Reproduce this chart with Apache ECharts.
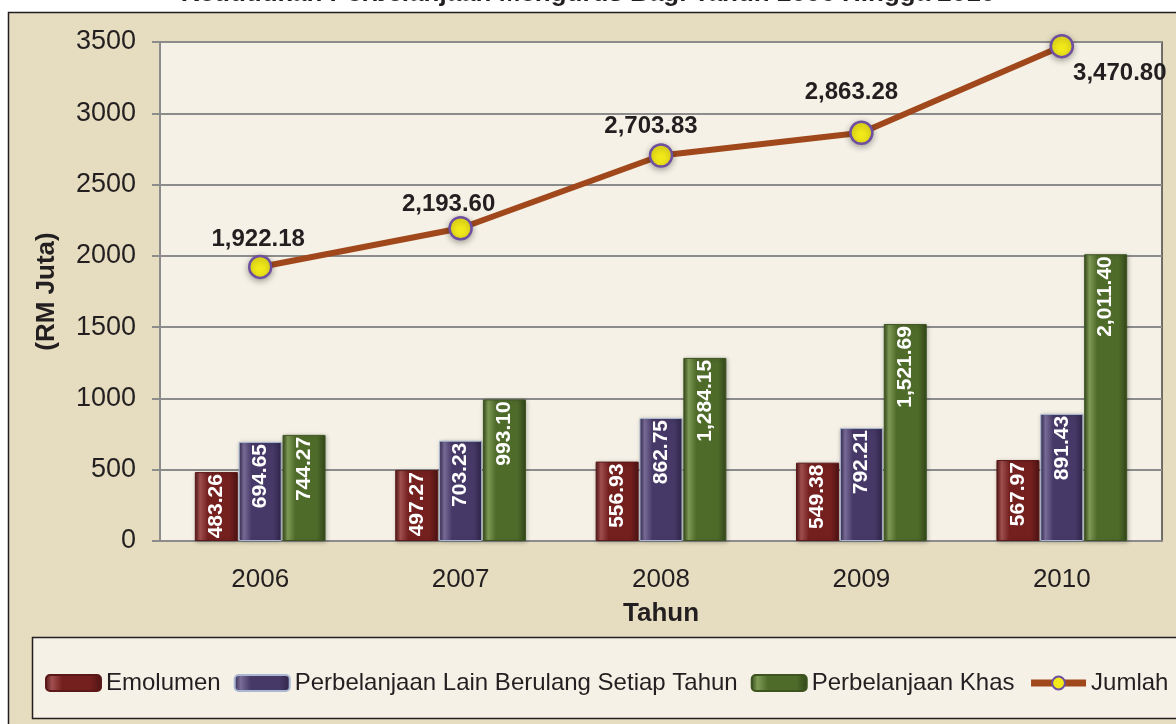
<!DOCTYPE html>
<html>
<head>
<meta charset="utf-8">
<script src="https://cdn.jsdelivr.net/npm/echarts@6/dist/echarts.min.js"></script>
<style>
html,body{margin:0;padding:0;background:#fff;}
#chart{width:1176px;height:724px;}
</style>
</head>
<body>
<div id="chart"></div>
<script>
var titleText = 'Kedudukan Perbelanjaan Mengurus Bagi Tahun 2006 Hingga 2010';
var years = ['2006', '2007', '2008', '2009', '2010'];
var emolumen = [483.26, 497.27, 556.93, 549.38, 567.97];
var lainBerulang = [694.65, 703.23, 862.75, 792.21, 891.43];
var khas = [744.27, 993.10, 1284.15, 1521.69, 2011.40];
var jumlah = [1922.18, 2193.60, 2703.83, 2863.28, 3470.80];
var seriesNames = ['Emolumen', 'Perbelanjaan Lain Berulang Setiap Tahun', 'Perbelanjaan Khas', 'Jumlah'];
var yTicks = [0, 500, 1000, 1500, 2000, 2500, 3000, 3500];

var FONT = 'Liberation Sans, Arial, sans-serif';
function fmt(v) {
  return v.toLocaleString('en-US', {minimumFractionDigits: 2, maximumFractionDigits: 2});
}
function grad(dark, mid, light) {
  return new echarts.graphic.LinearGradient(0, 0, 1, 0, [
    {offset: 0, color: dark},
    {offset: 0.12, color: light},
    {offset: 0.3, color: mid},
    {offset: 0.8, color: mid},
    {offset: 1, color: dark}
  ]);
}
var barLabel = {
  show: true,
  position: 'insideTop',
  rotate: 90,
  align: 'right',
  verticalAlign: 'middle',
  distance: 2,
  color: '#ffffff',
  fontFamily: FONT,
  fontWeight: 'bold',
  fontSize: 21,
  formatter: function (p) { return fmt(p.value); }
};
function barSeries(name, data, colors, border) {
  return {
    name: name,
    type: 'bar',
    data: data,
    barWidth: 43,
    barGap: '2%',
    itemStyle: {
      color: grad(colors[0], colors[1], colors[2]),
      borderColor: border,
      borderWidth: 1,
      shadowColor: 'rgba(0,0,0,0.25)',
      shadowBlur: 4,
      shadowOffsetX: 1,
      shadowOffsetY: 1
    },
    label: barLabel
  };
}

// label placement tweaks for the total line (styling only)
var lineLabelPlacement = [
  {position: 'top', offset: [-2, 0]},
  {position: 'top', offset: [-12, 3]},
  {position: 'top', offset: [-10, -2]},
  {position: 'top', offset: [-10, -13]},
  {position: 'bottom', offset: [58, 0]}
];
var lineData = jumlah.map(function (v, i) {
  return {value: v, label: lineLabelPlacement[i]};
});

var chart = echarts.init(document.getElementById('chart'));
chart.setOption({
  backgroundColor: '#ffffff',
  animation: false,
  textStyle: {fontFamily: FONT},
  graphic: {
    elements: [
      {type: 'rect', z: -10, shape: {x: 8.5, y: 12.5, width: 1200, height: 800},
       style: {fill: '#E6DDC0', stroke: '#231F20', lineWidth: 1.5}},
      {type: 'rect', z: -9, shape: {x: 32.5, y: 637.5, width: 1200, height: 81},
       style: {fill: '#F5F1E6', stroke: '#231F20', lineWidth: 1.5}}
    ]
  },
  title: {
    text: titleText,
    left: 'center',
    top: -24,
    textStyle: {fontSize: 26, fontWeight: 'bold', color: '#231F20', fontFamily: FONT}
  },
  grid: {
    left: 160, right: 14, top: 42, bottom: 183,
    show: true, backgroundColor: '#F5F1E6', borderColor: '#444', borderWidth: 1.5
  },
  legend: {
    data: [
      {name: seriesNames[0]},
      {name: seriesNames[1]},
      {name: seriesNames[2]},
      {name: seriesNames[3], lineStyle: {width: 7, color: '#A0481C'}}
    ],
    left: 40,
    top: 666,
    width: 1300,
    itemWidth: 55,
    itemHeight: 16,
    itemGap: 13,
    textStyle: {fontSize: 24, color: '#231F20', fontFamily: FONT}
  },
  xAxis: {
    type: 'category',
    data: years,
    axisLine: {lineStyle: {color: '#8C8C8C', width: 2}},
    axisTick: {show: false},
    axisLabel: {fontSize: 26, color: '#231F20', margin: 26},
    name: 'Tahun',
    nameLocation: 'middle',
    nameGap: 60,
    nameTextStyle: {fontSize: 26, fontWeight: 'bold', color: '#231F20'}
  },
  yAxis: {
    type: 'value',
    min: 0, max: 3500, interval: 500,
    axisLine: {show: true, lineStyle: {color: '#8C8C8C', width: 2}},
    axisTick: {show: true, length: 8, lineStyle: {color: '#8C8C8C', width: 2}},
    axisLabel: {fontSize: 27, color: '#231F20', margin: 24,
      formatter: function (v) { return yTicks.indexOf(v) >= 0 ? String(v) : ''; }},
    splitLine: {lineStyle: {color: '#8C8C8C', width: 2}},
    name: '(RM Juta)',
    nameLocation: 'middle',
    nameRotate: 90,
    nameGap: 100,
    nameTextStyle: {fontSize: 26, fontWeight: 'bold', color: '#231F20'}
  },
  series: [
    barSeries(seriesNames[0], emolumen, ['#4E1414', '#74201F', '#A25050'], '#5A1818'),
    barSeries(seriesNames[1], lainBerulang, ['#2E2448', '#473967', '#7A6C98'], '#A9B8D2'),
    barSeries(seriesNames[2], khas, ['#33461A', '#4F6B2A', '#7F9A55'], '#3E5420'),
    {
      name: seriesNames[3],
      type: 'line',
      data: lineData,
      z: 5,
      symbol: 'circle',
      symbolSize: 22,
      lineStyle: {color: '#A0481C', width: 6},
      itemStyle: {color: '#F2E91A', borderColor: '#6E4FA0', borderWidth: 2.5,
        shadowColor: 'rgba(0,0,0,0.3)', shadowBlur: 6, shadowOffsetY: 2},
      label: {
        show: true,
        position: 'top',
        distance: 3,
        color: '#231F20',
        fontWeight: 'bold',
        fontSize: 24,
        fontFamily: FONT,
        formatter: function (p) { return fmt(p.value); }
      }
    }
  ]
});
</script>
</body>
</html>
